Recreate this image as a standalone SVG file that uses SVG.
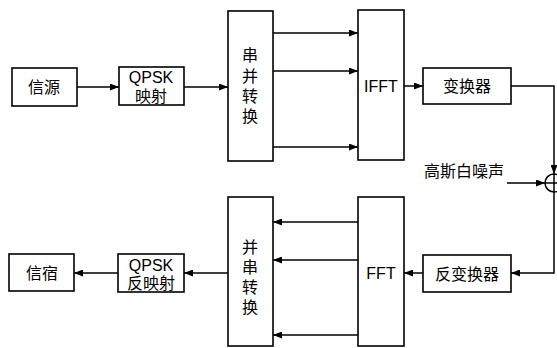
<svg xmlns="http://www.w3.org/2000/svg" width="557" height="348" viewBox="0 0 557 348">
<style>
.box{fill:#fff;stroke:#000;stroke-width:1.6}
.ln{fill:none;stroke:#000;stroke-width:1.5}
text{font-family:"Liberation Sans","Noto Sans CJK SC",sans-serif;font-size:16px;fill:#000;text-anchor:middle;dominant-baseline:central}
</style>
<defs>
<marker id="ah" markerWidth="9" markerHeight="7" refX="9" refY="3.5" orient="auto" markerUnits="userSpaceOnUse">
<path d="M0,0 L9,3.5 L0,7 Z" fill="#000"/>
</marker>
</defs>
<rect width="557" height="348" fill="#fff"/>
<g id="src"><rect class="box" x="12" y="68" width="65" height="38"/><text x="44" y="87">信源</text></g>
<g id="qpsk"><rect class="box" x="119" y="67" width="65" height="38"/><text x="151" y="77">QPSK</text><text x="151" y="96">映射</text></g>
<g id="sp"><rect class="box" x="228" y="11" width="45" height="150"/><text x="250" y="55">串</text><text x="250" y="76">并</text><text x="250" y="96">转</text><text x="250" y="116">换</text></g>
<g id="ifft"><rect class="box" x="358" y="10" width="46" height="150"/><text x="381" y="86">IFFT</text></g>
<g id="conv"><rect class="box" x="423" y="68" width="88" height="36"/><text x="467" y="86">变换器</text></g>
<g id="adder"><circle cx="554" cy="183" r="9" fill="#fff" stroke="#000" stroke-width="1.5"/><line class="ln" x1="545" y1="183" x2="557" y2="183"/><line class="ln" x1="554" y1="174" x2="554" y2="192"/></g>
<g id="noise"><text x="464" y="171">高斯白噪声</text></g>
<g id="iconv"><rect class="box" x="423" y="255" width="88" height="37"/><text x="467" y="274">反变换器</text></g>
<g id="fft"><rect class="box" x="358" y="197" width="46" height="149"/><text x="381" y="273">FFT</text></g>
<g id="ps"><rect class="box" x="228" y="197" width="45" height="149"/><text x="250" y="247">并</text><text x="250" y="267">串</text><text x="250" y="287">转</text><text x="250" y="307">换</text></g>
<g id="iqpsk"><rect class="box" x="118" y="254" width="66" height="38"/><text x="151" y="265">QPSK</text><text x="151" y="283">反映射</text></g>
<g id="sink"><rect class="box" x="9" y="254" width="65" height="37"/><text x="42" y="273">信宿</text></g>
<g id="connectors">
<line class="ln" x1="77" y1="87" x2="119" y2="87" marker-end="url(#ah)"/>
<line class="ln" x1="184" y1="87" x2="228" y2="87" marker-end="url(#ah)"/>
<line class="ln" x1="273" y1="33" x2="358" y2="33" marker-end="url(#ah)"/>
<line class="ln" x1="273" y1="71" x2="358" y2="71" marker-end="url(#ah)"/>
<line class="ln" x1="273" y1="147" x2="358" y2="147" marker-end="url(#ah)"/>
<line class="ln" x1="404" y1="86" x2="423" y2="86" marker-end="url(#ah)"/>
<polyline class="ln" points="511,86 554,86 554,174" marker-end="url(#ah)"/>
<line class="ln" x1="507" y1="183" x2="545" y2="183" marker-end="url(#ah)"/>
<polyline class="ln" points="554,192 554,273 511,273" marker-end="url(#ah)"/>
<line class="ln" x1="423" y1="273" x2="404" y2="273" marker-end="url(#ah)"/>
<line class="ln" x1="358" y1="222" x2="273" y2="222" marker-end="url(#ah)"/>
<line class="ln" x1="358" y1="260" x2="273" y2="260" marker-end="url(#ah)"/>
<line class="ln" x1="358" y1="335" x2="273" y2="335" marker-end="url(#ah)"/>
<line class="ln" x1="228" y1="273" x2="184" y2="273" marker-end="url(#ah)"/>
<line class="ln" x1="118" y1="273" x2="74" y2="273" marker-end="url(#ah)"/>
</g>
</svg>
